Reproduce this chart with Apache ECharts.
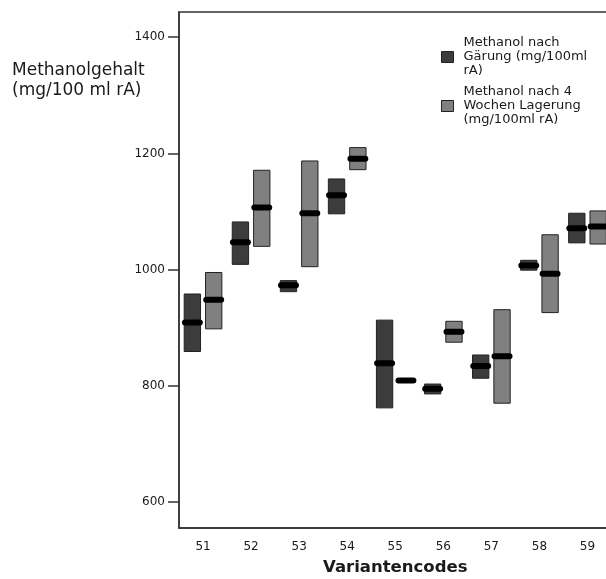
<!DOCTYPE html>
<html>
<head>
<meta charset="utf-8">
<script src="https://cdn.jsdelivr.net/npm/echarts@6/dist/echarts.min.js"></script>
<style>
html,body{margin:0;padding:0;background:#fff;}
#chart{width:606px;height:579px;}
</style>
</head>
<body>
<div id="chart"></div>
<script>
const categories = ['51','52','53','54','55','56','57','58','59'];
const gaerungLow  = [859, 1009, 962, 1096, 762, 786, 813, 999, 1046];
const gaerungHigh = [958, 1082, 981, 1156, 913, 803, 853, 1016, 1097];
const gaerungMean = [909, 1047, 973, 1128, 839, 795, 834, 1007, 1071];
const lagerungLow  = [898, 1040, 1005, 1172, 809, 875, 770, 926, 1044];
const lagerungHigh = [995, 1171, 1187, 1210, 809, 911, 931, 1060, 1101];
const lagerungMean = [948, 1107, 1097, 1191, 809, 893, 851, 993, 1074];
const yTicks = [600, 800, 1000, 1200, 1400];
const seriesNames = ['Methanol nach\nGärung (mg/100ml\nrA)', 'Methanol nach 4\nWochen Lagerung\n(mg/100ml rA)'];
const colors = ['#3c3c3c', '#808080'];

const FONT = 'DejaVu Sans';

function makeData(lo, hi, mean) {
  return categories.map((c, i) => [i, lo[i], hi[i], mean[i]]);
}

function makeRender(sign, color) {
  return function (params, api) {
    const idx = api.value(0);
    const lo = api.value(1), hi = api.value(2), m = api.value(3);
    const band = api.size([1, 0])[0];
    const base = api.coord([idx, m]);
    const cx = base[0] + sign * band * 0.222;
    const ym = base[1];
    const yTop = api.coord([idx, hi])[1];
    const yBot = api.coord([idx, lo])[1];
    const w = band * 0.34;
    const half = band * 0.155;
    return {
      type: 'group',
      children: [
        {
          type: 'rect',
          shape: { x: cx - w / 2, y: yTop, width: w, height: Math.max(yBot - yTop, 0) },
          style: { fill: color, stroke: '#222', lineWidth: 1 }
        },
        {
          type: 'line',
          shape: { x1: cx - half, y1: ym, x2: cx + half, y2: ym },
          style: { stroke: '#000', lineWidth: 6, lineCap: 'round' }
        }
      ]
    };
  };
}

const chart = echarts.init(document.getElementById('chart'), null, { renderer: 'canvas' });
chart.setOption({
  animation: false,
  backgroundColor: '#fff',
  textStyle: { fontFamily: FONT },
  grid: {
    left: 179, top: 12, width: 432.5, height: 516,
    outerBoundsMode: 'none',
    containLabel: false,
    show: true, borderColor: '#333', borderWidth: 1.5, backgroundColor: 'transparent'
  },
  legend: {
    orient: 'vertical',
    left: 441, top: 36,
    padding: 0,
    itemWidth: 12, itemHeight: 11, itemGap: 7,
    icon: 'rect',
    textStyle: { fontFamily: FONT, fontSize: 13, color: '#1a1a1a', lineHeight: 14, padding: [0, 0, 0, 5] },
    data: [
      { name: seriesNames[0], itemStyle: { color: colors[0], borderColor: '#222', borderWidth: 1 } },
      { name: seriesNames[1], itemStyle: { color: colors[1], borderColor: '#222', borderWidth: 1 } }
    ]
  },
  graphic: [
    {
      type: 'text', left: 12, top: 61,
      style: {
        text: 'Methanolgehalt\n(mg/100 ml rA)',
        font: '17px "DejaVu Sans"', fill: '#1a1a1a', lineHeight: 20
      }
    }
  ],
  xAxis: {
    type: 'category',
    data: categories,
    name: 'Variantencodes',
    nameLocation: 'middle',
    nameGap: 31,
    nameTextStyle: { fontFamily: FONT, fontSize: 16.5, fontWeight: 'bold', color: '#1a1a1a' },
    axisLine: { lineStyle: { color: '#333', width: 1.5 } },
    axisTick: { alignWithLabel: true, length: 8, lineStyle: { color: '#333', width: 1.5 } },
    axisLabel: { fontFamily: FONT, fontSize: 12, color: '#1a1a1a', margin: 13 },
    splitLine: { show: false }
  },
  yAxis: {
    type: 'value',
    min: 555.2, max: 1443.4,
    axisLine: { show: true, lineStyle: { color: '#333', width: 1.5 } },
    axisTick: { show: true, length: 11, customValues: yTicks, lineStyle: { color: '#333', width: 1.5 } },
    axisLabel: { fontFamily: FONT, fontSize: 12, color: '#1a1a1a', margin: 14, customValues: yTicks,
      formatter: function (v) { return String(v); } },
    splitLine: { show: false }
  },
  series: [
    {
      name: seriesNames[0],
      type: 'custom',
      itemStyle: { color: colors[0], borderColor: '#222', borderWidth: 1 },
      encode: { x: 0, y: [1, 2, 3] },
      renderItem: makeRender(-1, colors[0]),
      data: makeData(gaerungLow, gaerungHigh, gaerungMean)
    },
    {
      name: seriesNames[1],
      type: 'custom',
      itemStyle: { color: colors[1], borderColor: '#222', borderWidth: 1 },
      encode: { x: 0, y: [1, 2, 3] },
      renderItem: makeRender(1, colors[1]),
      data: makeData(lagerungLow, lagerungHigh, lagerungMean)
    }
  ]
});
</script>
</body>
</html>
